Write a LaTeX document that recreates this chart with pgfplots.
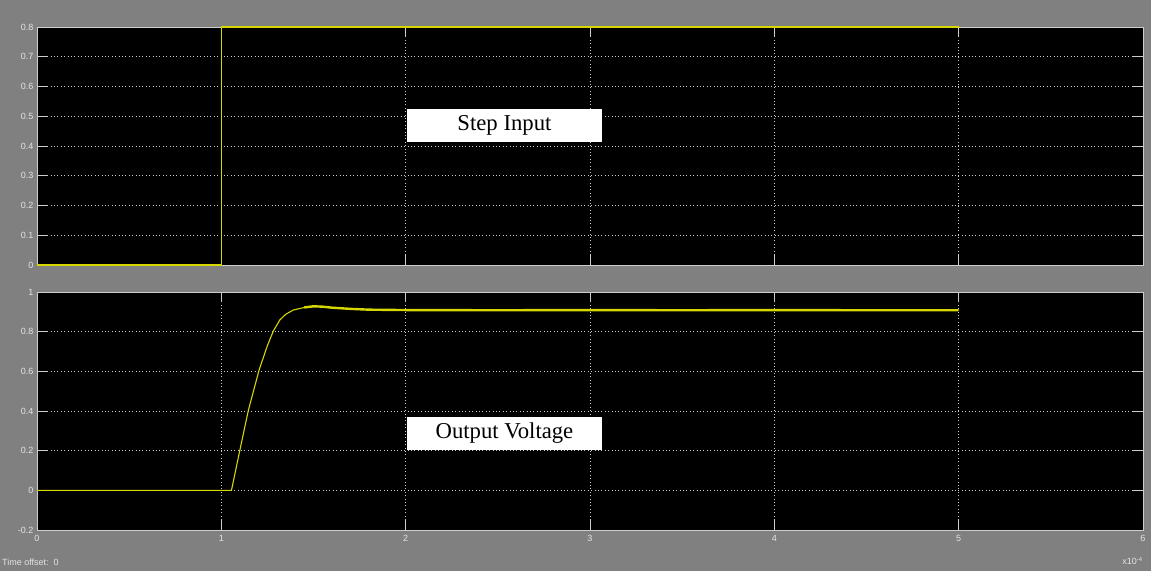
\documentclass[border=0pt]{standalone}
\usepackage{fontspec}
\setmainfont{Liberation Serif}
\setsansfont{Liberation Sans}
\usepackage{xcolor}
\usepackage{pgfplots}
\pgfplotsset{compat=1.18}
\definecolor{bg}{RGB}{128,128,128}
\definecolor{scopeyellow}{RGB}{215,215,0}
\definecolor{frame}{RGB}{205,205,205}
\definecolor{lbl}{RGB}{228,228,228}
\pagecolor{bg}
\pgfplotsset{scopestyle/.style={
  set layers,
  scale only axis, width=1106pt, height=238pt,
  axis background/.style={fill=black},
  axis line style={frame, line width=0.8pt},
  xmin=0, xmax=6, xtick={0,1,2,3,4,5,6},
  tick align=inside, major tick length=10pt,
  tick style={frame, line width=0.8pt},
  grid=major,
  major grid style={color=frame, dash pattern=on 0.8pt off 2.6pt, line width=0.6pt},
  ticklabel style={font=\sffamily\fontsize{9}{10}\selectfont, text=lbl},
  xticklabel style={yshift=-2pt},
  /pgf/number format/assume math mode=true,
  clip=false,
  every axis plot/.append style={on layer=axis foreground},
}}
\begin{document}
\begin{tikzpicture}
\path (0pt,0pt) rectangle (1151pt,-571pt);
% top: step input
\begin{axis}[scopestyle, at={(37pt,-265pt)}, anchor=south west,
  ymin=0, ymax=0.8, ytick={0,0.1,0.2,0.3,0.4,0.5,0.6,0.7,0.8},
  xticklabels={}]
\addplot[color=scopeyellow, line width=1.3pt] coordinates {(0,0) (1,0) (1,0.8) (5,0.8)};
\node[fill=white, minimum width=195pt, minimum height=33pt, inner sep=0pt,
  font=\fontsize{22.7}{24}\selectfont] at (axis cs:2.536,0.469) {Step Input};
\end{axis}
% bottom: output voltage
\begin{axis}[scopestyle, at={(37pt,-530pt)}, anchor=south west,
  ymin=-0.2, ymax=1, ytick={-0.2,0,0.2,0.4,0.6,0.8,1}]
\addplot[color=scopeyellow, line width=1.1pt] coordinates {(0,0) (1.055,0) (1.10,0.20) (1.147,0.405)
  (1.205,0.607) (1.25,0.73) (1.282,0.803) (1.318,0.86) (1.35,0.888) (1.39,0.909)
  (1.45,0.922) (1.5,0.928)};
\addplot[color=scopeyellow, line width=2.4pt] coordinates {(1.45,0.922) (1.5,0.928) (1.55,0.926) (1.6,0.921)
  (1.7,0.915) (1.8,0.911) (2.0,0.909) (2.5,0.908) (3.0,0.909) (3.5,0.908) (4.0,0.909)
  (4.5,0.908) (5.0,0.908)};
\node[fill=white, minimum width=195pt, minimum height=33pt, inner sep=0pt,
  font=\fontsize{22.7}{24}\selectfont] at (axis cs:2.536,0.289) {Output Voltage};
\end{axis}
\node[anchor=west, text=lbl, font=\sffamily\fontsize{9}{10}\selectfont, inner sep=0pt]
  at (2pt,-562pt) {Time offset:\ \ 0};
\node[anchor=east, text=lbl, font=\sffamily\fontsize{9}{10}\selectfont, inner sep=0pt]
  at (1143pt,-561pt) {x10\textsuperscript{-4}};
\end{tikzpicture}
\end{document}
